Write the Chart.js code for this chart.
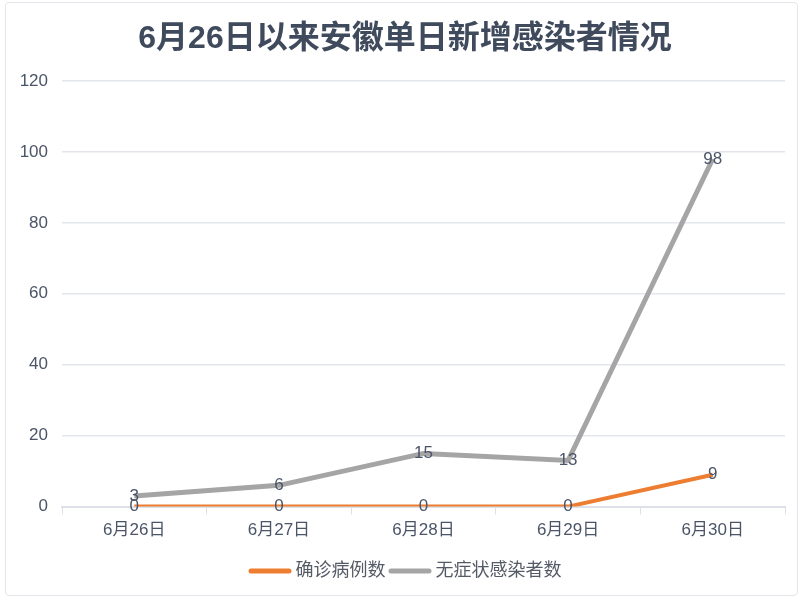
<!DOCTYPE html>
<html>
<head>
<meta charset="utf-8">
<script src="https://cdn.jsdelivr.net/npm/chart.js@4"></script>
<style>
  html, body { margin: 0; padding: 0; background: #fff; }
  #wrap { position: relative; width: 810px; height: 600px; }
  #frame { position: absolute; left: 5px; top: 2px; width: 793px; height: 594px;
           border: 1px solid #e3e6ea; border-radius: 4px; box-sizing: border-box; }
  canvas { position: absolute; left: 0; top: 0; }
</style>
</head>
<body>
<div id="wrap">
  <div id="frame"></div>
  <canvas id="lineChart" width="810" height="600"></canvas>
</div>
<script>
// 数据
const days = ["6月26日", "6月27日", "6月28日", "6月29日", "6月30日"];
const confirmed = [0, 0, 0, 0, 9];
const asymptomatic = [3, 6, 15, 13, 98];
const seriesNames = ["确诊病例数", "无症状感染者数"];
const yTicks = [0, 20, 40, 60, 80, 100, 120];
const titleText = "6月26日以来安徽单日新增感染者情况";

const FONT = "'Liberation Sans', 'Noto Sans CJK SC', sans-serif";

// 标题，居中于整张图
const topTitle = {
  id: "topTitle",
  afterDraw(chart) {
    const ctx = chart.ctx;
    ctx.save();
    ctx.font = "bold 32px " + FONT;
    ctx.fillStyle = "#3f4a5c";
    ctx.textAlign = "center";
    ctx.textBaseline = "middle";
    ctx.fillText(titleText, chart.width / 2, 39);
    ctx.restore();
  }
};

// 在每个点上写数值
const pointLabels = {
  id: "pointLabels",
  afterDatasetsDraw(chart) {
    const ctx = chart.ctx;
    ctx.save();
    ctx.font = "17px " + FONT;
    ctx.fillStyle = "#4b5568";
    ctx.textAlign = "center";
    ctx.textBaseline = "middle";
    chart.data.datasets.forEach((ds, i) => {
      chart.getDatasetMeta(i).data.forEach((pt, j) => {
        ctx.fillText(String(ds.data[j]), pt.x, pt.y);
      });
    });
    ctx.restore();
  }
};

// 底部图例（线段 + 文字，间距较紧）
const bottomLegend = {
  id: "bottomLegend",
  afterDraw(chart) {
    const ctx = chart.ctx;
    const lineW = 43, gapText = 4, gapItem = 3, y = 571;
    ctx.save();
    ctx.font = "18px " + FONT;
    ctx.textBaseline = "middle";
    const items = chart.data.datasets.map(ds => ({
      color: ds.borderColor, text: ds.label, w: ctx.measureText(ds.label).width
    }));
    let total = 0;
    items.forEach((it, i) => { total += lineW + gapText + it.w + (i ? gapItem : 0); });
    let x = chart.width / 2 - total / 2;
    items.forEach(it => {
      ctx.fillStyle = it.color;
      ctx.beginPath();
      ctx.roundRect(x, y - 2.5, lineW, 5, 2.5);
      ctx.fill();
      x += lineW + gapText;
      ctx.fillStyle = "#555b66";
      ctx.fillText(it.text, x, y);
      x += it.w + gapItem;
    });
    ctx.restore();
  }
};

new Chart(document.getElementById("lineChart"), {
  type: "line",
  data: {
    labels: days,
    datasets: [{
      label: seriesNames[0],
      data: confirmed,
      borderColor: "#ed7d31",
      backgroundColor: "#ed7d31",
      borderWidth: 4,
      pointRadius: 0,
      tension: 0
    }, {
      label: seriesNames[1],
      data: asymptomatic,
      borderColor: "#a5a5a5",
      backgroundColor: "#a5a5a5",
      borderWidth: 5,
      pointRadius: 0,
      tension: 0
    }]
  },
  options: {
    responsive: false,
    animation: false,
    layout: { padding: { left: 10, right: 25, top: 81, bottom: 53 } },
    plugins: {
      title: { display: false },
      legend: { display: false },
      tooltip: { enabled: false }
    },
    scales: {
      x: {
        offset: true,
        grid: { display: true, drawOnChartArea: false, drawTicks: true, tickLength: 8, color: "#dde1e7", offset: true },
        border: { display: true, color: "#dde1e7", width: 2 },
        ticks: { color: "#4b5568", font: { family: FONT, size: 17 }, padding: 6 }
      },
      y: {
        min: 0,
        max: 120,
        afterBuildTicks(scale) { scale.ticks = yTicks.map(v => ({ value: v })); },
        afterFit(scale) { scale.width = 52; },
        grid: { color: "#e3e6eb", drawTicks: false, lineWidth: 1.5 },
        border: { display: false },
        ticks: { color: "#4b5568", font: { family: FONT, size: 17 }, padding: 14 }
      }
    }
  },
  plugins: [topTitle, pointLabels, bottomLegend]
});
</script>
</body>
</html>
